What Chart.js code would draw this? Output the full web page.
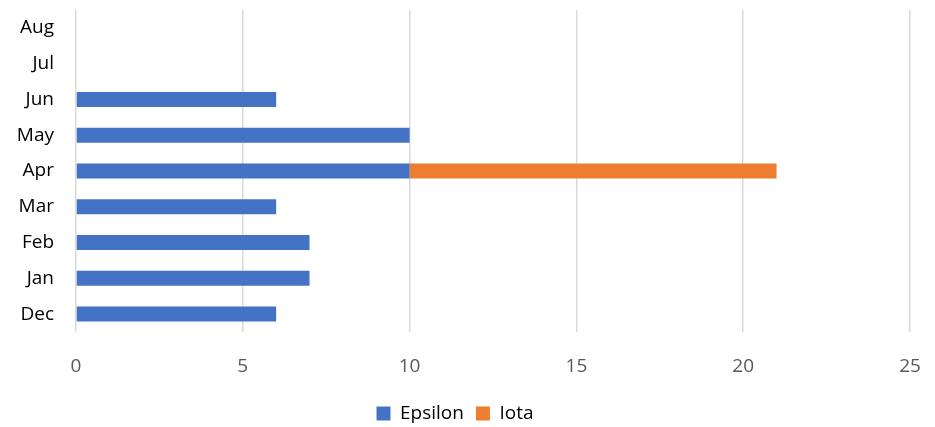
<!DOCTYPE html>
<html>
<head>
<meta charset="utf-8">
<script src="https://cdn.jsdelivr.net/npm/chart.js@4"></script>
<style>
  html, body { margin: 0; padding: 0; background: #fff; }
  #wrap { width: 935px; height: 427px; }
</style>
</head>
<body>
<div id="wrap"><canvas id="chartMonths"></canvas></div>
<script>
// categories, top to bottom as drawn
const months = ['Aug', 'Jul', 'Jun', 'May', 'Apr', 'Mar', 'Feb', 'Jan', 'Dec'];
const epsilon = [0, 0, 6, 10, 10, 6, 7, 7, 6];
const iota = [0, 0, 0, 0, 11, 0, 0, 0, 0];
const xTicks = [0, 5, 10, 15, 20, 25];

const fontFamily = "'Open Sans', 'Liberation Sans', sans-serif";

// keep the legend band a fixed height
const legendHeight = {
	id: 'legendHeight',
	beforeInit: function (chart) {
		let lg = chart.legend;
		if (!lg) return;
		let fit = lg.fit;
		lg.fit = function () {
			fit.call(lg);
			lg.height = 35;
		};
	},
};

let ctx = document.getElementById('chartMonths').getContext('2d');

let chart = new Chart(ctx, {
	type: 'bar',
	data: {
		labels: months,
		datasets: [
			{
				label: 'Epsilon',
				data: epsilon,
				backgroundColor: '#4472C4',
				barPercentage: 0.84,
				categoryPercentage: 0.5,
			},
			{
				label: 'Iota',
				data: iota,
				backgroundColor: '#ED7D31',
				barPercentage: 0.84,
				categoryPercentage: 0.5,
			},
		],
	},
	plugins: [legendHeight],
	options: {
		indexAxis: 'y',
		responsive: true,
		maintainAspectRatio: false,
		animation: false,
		layout: {
			padding: { left: 0, right: 25, top: 10, bottom: 0 },
		},
		scales: {
			x: {
				stacked: true,
				min: 0,
				max: 25,
				afterBuildTicks: function (scale) {
					scale.ticks = xTicks.map(function (v) { return { value: v }; });
				},
				afterFit: function (scale) {
					scale.height = 60;
					scale.paddingLeft = 0;
					scale.paddingRight = 0;
				},
				grid: { color: '#d9d9d9', lineWidth: 1.5, drawTicks: false },
				border: { display: false },
				ticks: {
					padding: 23,
					color: '#595959',
					font: { family: fontFamily, size: 19 },
				},
			},
			y: {
				stacked: true,
				afterFit: function (scale) {
					scale.width = 76;
					scale.paddingTop = 0;
					scale.paddingBottom = 0;
				},
				grid: { display: false },
				border: { display: false },
				ticks: {
					padding: 14,
					color: '#000',
					font: { family: fontFamily, size: 19 },
				},
			},
		},
		plugins: {
			legend: {
				position: 'bottom',
				labels: {
					boxWidth: 14,
					boxHeight: 14,
					padding: 12,
					color: '#000',
					font: { family: fontFamily, size: 19 },
				},
			},
			tooltip: { enabled: false },
		},
	},
});
</script>
</body>
</html>
